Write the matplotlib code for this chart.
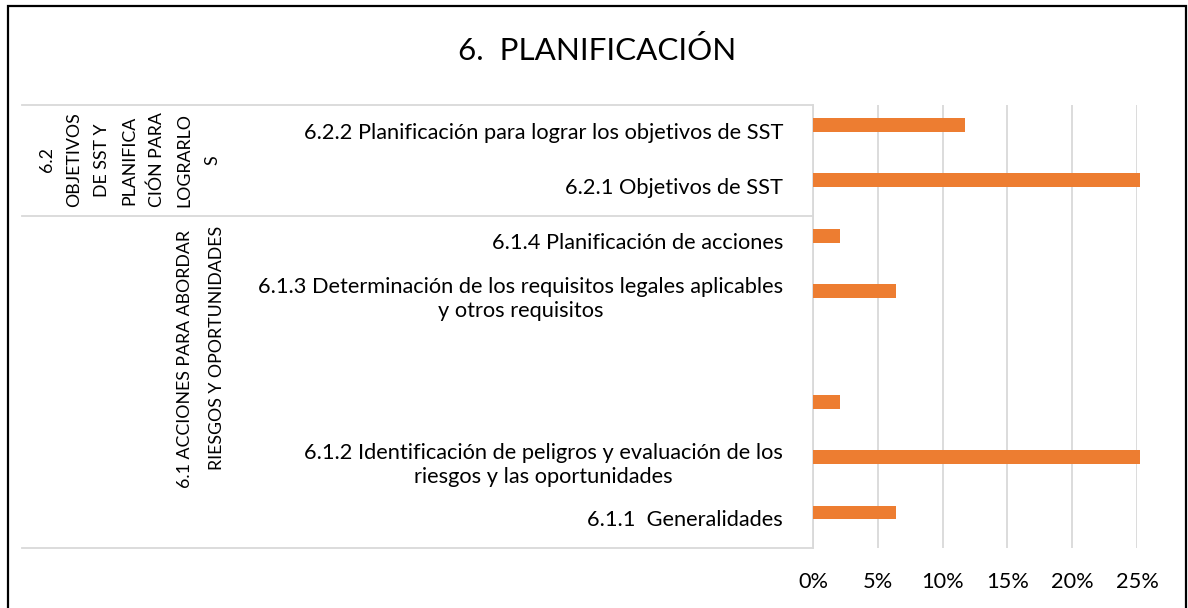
import numpy as np
import matplotlib
matplotlib.use('Agg')
import matplotlib.pyplot as plt
from matplotlib.patches import Rectangle
from matplotlib.transforms import blended_transform_factory

plt.rcParams['font.family'] = ['Lato', 'DejaVu Sans']

# chart data, top to bottom
labels = ['6.2.2 Planificación para lograr los objetivos de SST',
          '6.2.1 Objetivos de SST',
          '6.1.4 Planificación de acciones',
          '6.1.3 Determinación de los requisitos legales aplicables\ny otros requisitos',
          '',
          '',
          '6.1.2 Identificación de peligros y evaluación de los\nriesgos y las oportunidades',
          '6.1.1  Generalidades']
values = [11.7, 25.2, 2.1, 6.4, 0, 2.1, 25.2, 6.4]
groups = [['6.2', 'OBJETIVOS', 'DE SST Y', 'PLANIFICA', 'CIÓN PARA', 'LOGRARLO', 'S'],
          ['6.1 ACCIONES PARA ABORDAR', 'RIESGOS Y OPORTUNIDADES']]
group_sizes = [2, 6]
ticks = [0, 5, 10, 15, 20, 25]
tick_labels = ['0%', '5%', '10%', '15%', '20%', '25%']

W, H = 1188, 608
fig = plt.figure(figsize=(W / 100, H / 100), dpi=100)
ax = fig.add_axes([813 / W, 1 - 548 / H, (1137 - 813) / W, (548 - 105) / H])

y = np.arange(len(labels))
ax.barh(y - 0.14, values, height=0.25, color='#ED7D31', clip_on=False, zorder=3)
ax.set_xlim(0, 25)
ax.set_ylim(len(labels) - 0.5, -0.5)

ax.set_xticks(ticks)
ax.set_xticklabels(tick_labels, fontsize=15.7)
ax.tick_params(axis='x', length=0, pad=17)
ax.set_yticks([])
ax.grid(axis='x', color='#D9D9D9', linewidth=1.3, zorder=0)
for s in ['top', 'right', 'bottom']:
    ax.spines[s].set_visible(False)
ax.spines['left'].set_color('#D9D9D9')
ax.spines['left'].set_linewidth(1.3)

tr = blended_transform_factory(fig.transFigure, ax.transData)

# category labels
for yi, lab in zip(y, labels):
    ax.text(783 / W, yi, lab, transform=tr, ha='right', va='center',
            multialignment='center', fontsize=15.7, linespacing=1.25)

# group separators
bounds = np.concatenate([[0], np.cumsum(group_sizes)]) - 0.5
for b in bounds:
    ax.plot([22 / W, 813 / W], [b, b], transform=tr, color='#D9D9D9', lw=1.3, clip_on=False)

# group labels, one rotated line each
g1_x = [47, 74.5, 102, 129.5, 157, 184.5, 212]
for gx, line in zip(g1_x, groups[0]):
    fig.text(gx / W, 1 - 160 / H, line, rotation=90, ha='center', va='center', fontsize=12.8)
for gx, gy, line in zip([185, 217], [359, 348], groups[1]):
    fig.text(gx / W, 1 - gy / H, line, rotation=90, ha='center', va='center', fontsize=12.8)

fig.text(597 / W, 1 - 50 / H, '6.  PLANIFICACIÓN', ha='center', va='center', fontsize=22.6)

# outer border
fig.patches.append(Rectangle((8 / W, -0.05), (1186 - 8) / W, 1.05 - 6 / H, transform=fig.transFigure,
                             fill=False, edgecolor='black', linewidth=1.6))

fig.savefig('out.png', dpi=100)
